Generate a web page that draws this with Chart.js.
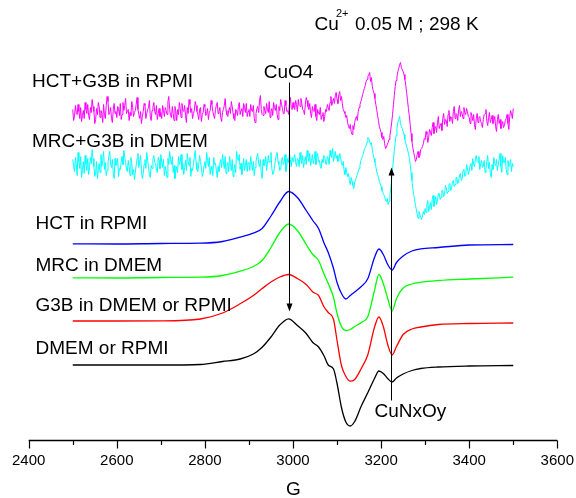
<!doctype html>
<html lang="en">
<head>
<meta charset="utf-8">
<title>EPR spectra - Cu2+ 0.05 M ; 298 K</title>
<style>
  * { margin: 0; padding: 0; }
  body { background: #fff; }
</style>
</head>
<body>
<canvas id="myChart" width="576" height="498"></canvas>
<script src="https://cdn.jsdelivr.net/npm/chart.js/dist/chart.umd.min.js"></script>
<script>
// field axis (G)
const xTicks = [2400, 2600, 2800, 3000, 3200, 3400, 3600];
const xMinorTicks = [2500, 2700, 2900, 3100, 3300, 3500];

// sample names, top to bottom
const sampleLabels = ['HCT+G3B in RPMI', 'MRC+G3B in DMEM', 'HCT in RPMI', 'MRC in DMEM', 'G3B in DMEM or RPMI', 'DMEM or RPMI'];

// noisy spectra: sampled every 2 G from 2500 G (one row = 100 G)
const noisyStart = 2500;
const noisyStep = 2;
const hctG3bRpmi = [
  331, 320, 324, 335, 328, 326, 336, 329, 322, 333, 319, 325, 330, 322, 338, 331, 327, 336, 325, 321, 333, 328, 341, 334, 329, 317, 321, 332, 326, 338, 334, 323, 330, 327, 318, 336, 325, 322, 335, 344, 339, 326, 328, 333, 322, 318, 331, 337, 327, 329,
  323, 334, 332, 325, 337, 321, 326, 338, 330, 335, 342, 327, 329, 331, 320, 328, 325, 339, 333, 324, 328, 330, 336, 343, 331, 326, 322, 329, 317, 324, 329, 337, 335, 322, 327, 331, 333, 340, 324, 320, 330, 333, 338, 329, 326, 335, 321, 327, 332, 324,
  328, 322, 335, 330, 324, 333, 330, 326, 339, 344, 331, 325, 323, 334, 327, 320, 334, 329, 320, 331, 326, 338, 332, 323, 337, 330, 329, 335, 325, 318, 333, 327, 341, 336, 328, 332, 322, 327, 330, 339, 335, 329, 326, 321, 331, 333, 319, 326, 328, 336,
  334, 325, 327, 332, 321, 328, 330, 340, 336, 329, 325, 322, 331, 335, 338, 327, 329, 333, 323, 319, 328, 331, 335, 342, 330, 326, 324, 330, 333, 327, 339, 334, 327, 322, 320, 331, 329, 325, 334, 338, 326, 330, 332, 324, 337, 333, 328, 337, 324, 329,
  331, 324, 336, 330, 329, 335, 322, 318, 327, 332, 334, 328, 340, 345, 331, 326, 325, 334, 330, 327, 337, 331, 328, 339, 323, 329, 332, 325, 338, 333, 330, 336, 326, 321, 334, 330, 341, 336, 332, 327, 327, 340, 335, 329, 330, 326, 337, 343, 333, 331,
  338, 333, 331, 340, 336, 329, 341, 335, 334, 342, 337, 331, 330, 326, 336, 343, 340, 334, 331, 337, 327, 323, 334, 330, 329, 336, 324, 320, 331, 327, 326, 333, 321, 325, 328, 319, 324, 331, 329, 336, 333, 330, 338, 344, 335, 339, 342, 337, 345, 348,
  341, 337, 346, 349, 340, 344, 337, 331, 329, 327, 323, 325, 318, 314, 312, 316, 309, 306, 315, 311, 318, 322, 324, 320, 329, 333, 336, 339, 342, 346, 349, 352, 355, 359, 361, 364, 366, 368, 359, 363, 354, 350, 347, 342, 336, 331, 325, 320, 314, 311,
  308, 303, 301, 304, 297, 292, 293, 296, 298, 301, 305, 311, 318, 326, 336, 345, 354, 360, 364, 369, 372, 376, 378, 373, 371, 369, 366, 361, 355, 348, 340, 332, 325, 316, 307, 299, 293, 288, 284, 279, 281, 286, 289, 283, 285, 291, 292, 294, 297, 302,
  301, 309, 306, 298, 303, 311, 309, 305, 313, 318, 307, 312, 314, 308, 318, 324, 312, 315, 317, 310, 322, 327, 316, 321, 320, 314, 326, 330, 319, 324, 323, 317, 329, 334, 322, 327, 326, 320, 331, 335, 324, 329, 327, 322, 333, 328, 326, 332, 329, 324,
  323, 317, 328, 325, 320, 326, 316, 311, 322, 327, 318, 323, 324, 319, 317, 313, 321, 326, 327, 331, 319, 315, 323, 328, 318, 321, 325, 317, 320, 324, 314, 309, 321, 326, 317, 321, 312, 316, 319, 313, 315, 320, 322, 326, 317, 311, 324, 330, 327, 322,
  332
];
const mrcG3bDmem = [
  281, 274, 269, 283, 276, 265, 288, 279, 272, 284, 263, 270, 279, 267, 285, 276, 270, 282, 266, 273, 283, 277, 291, 282, 274, 264, 268, 279, 262, 271, 277, 268, 286, 274, 280, 289, 271, 278, 265, 270, 278, 284, 289, 276, 273, 281, 267, 262, 282, 275,
  276, 282, 264, 272, 271, 279, 284, 276, 290, 283, 278, 271, 269, 280, 274, 265, 283, 277, 266, 271, 261, 268, 275, 282, 287, 273, 279, 285, 270, 262, 267, 276, 281, 272, 288, 280, 274, 266, 263, 275, 272, 281, 285, 278, 277, 270, 268, 283, 280, 272,
  286, 278, 273, 281, 265, 274, 270, 263, 282, 276, 289, 281, 276, 284, 268, 275, 262, 270, 274, 268, 284, 276, 279, 286, 271, 277, 266, 273, 280, 270, 287, 279, 275, 283, 264, 272, 270, 277, 283, 290, 278, 271, 269, 276, 285, 279, 273, 264, 267, 275,
  279, 272, 288, 280, 274, 283, 266, 274, 271, 265, 283, 276, 277, 270, 263, 274, 269, 277, 281, 273, 286, 279, 272, 284, 267, 275, 278, 269, 284, 277, 270, 281, 264, 271, 276, 268, 289, 282, 280, 286, 271, 277, 266, 273, 282, 270, 275, 281, 269, 278,
  277, 270, 284, 276, 270, 279, 265, 273, 279, 284, 287, 277, 274, 281, 268, 262, 281, 275, 276, 284, 270, 277, 285, 278, 279, 288, 272, 266, 267, 274, 280, 285, 288, 279, 276, 270, 271, 280, 283, 276, 278, 286, 269, 275, 282, 278, 287, 281, 274, 283,
  279, 283, 286, 278, 274, 282, 281, 274, 288, 281, 277, 285, 273, 279, 284, 276, 290, 284, 279, 287, 275, 280, 286, 277, 281, 289, 276, 283, 287, 279, 280, 274, 272, 281, 278, 285, 284, 277, 276, 284, 282, 276, 290, 285, 283, 292, 279, 284, 289, 282,
  285, 279, 280, 287, 284, 277, 275, 279, 270, 266, 273, 268, 264, 267, 260, 256, 263, 259, 255, 252, 258, 261, 263, 266, 269, 272, 275, 280, 282, 285, 287, 291, 293, 295, 298, 303, 302, 299, 296, 298, 291, 286, 282, 278, 274, 269, 266, 263, 259, 257,
  254, 250, 248, 246, 244, 240, 239, 242, 236, 239, 246, 253, 262, 271, 281, 290, 298, 305, 312, 318, 321, 324, 317, 314, 312, 309, 306, 301, 297, 294, 291, 287, 283, 276, 268, 260, 252, 246, 241, 235, 231, 226, 222, 229, 226, 223, 221, 225, 229, 226,
  232, 228, 236, 240, 229, 234, 238, 231, 241, 245, 234, 239, 244, 236, 240, 247, 247, 241, 243, 250, 250, 244, 246, 255, 253, 247, 249, 256, 257, 250, 252, 259, 260, 254, 256, 263, 263, 257, 258, 266, 267, 260, 262, 270, 271, 264, 265, 276, 273, 266,
  269, 275, 277, 270, 282, 276, 274, 281, 285, 279, 278, 284, 271, 277, 280, 273, 274, 280, 268, 272, 279, 285, 272, 278, 267, 263, 276, 271, 283, 277, 275, 281, 270, 276, 281, 287, 274, 268, 285, 278, 278, 283, 271, 266, 280, 274, 276, 281, 269, 277,
  274
];

// smooth spectra (offset intensity, a.u.)
const smoothField = [2500, 2600, 2700, 2790, 2840, 2880, 2910, 2930, 2950, 2970, 2990, 3010, 3030, 3045, 3058, 3070, 3080, 3092, 3100, 3110,
  3120, 3130, 3140, 3155, 3170, 3185, 3195, 3205, 3215, 3225, 3235, 3250, 3270, 3290, 3330, 3400, 3500];
const hctRpmi = [196.7, 196.5, 197, 197.3, 199, 203.3, 207.3, 212, 224.5, 238.5, 249, 243, 230, 220, 212, 198, 188, 172, 158, 147,
  141.5, 145, 148.5, 154, 162, 183, 191.5, 186, 176, 170.5, 178, 184.5, 189.5, 191.7, 193, 195.5, 196];
const mrcDmem = [162.7, 162.5, 163, 163.3, 165, 169.3, 174, 180, 193, 208, 216.5, 210, 196, 186, 180, 167, 157, 143, 127, 114,
  110, 111, 114, 118, 124, 150, 166, 157, 142, 129.5, 142, 152.5, 156.5, 158.3, 160, 161.5, 163.3];
const g3bMedium = [119.5, 119.5, 119.6, 121.5, 127.5, 136.7, 145, 152, 158.5, 163.5, 166, 162, 156, 148.5, 145, 134, 128, 121, 100, 75,
  64, 59.3, 61, 72, 86, 113.3, 123.5, 114, 96, 85.5, 94, 106, 111.5, 113.5, 116, 117, 117.5];
const mediumOnly = [75.5, 75.5, 75.5, 76, 79, 81.5, 86.5, 93.3, 103.5, 115.5, 121.7, 115, 107, 98, 93.5, 85, 75.5, 71.5, 57, 33,
  18.5, 14.5, 19, 34.5, 48, 62, 69.5, 67, 62, 58.5, 62.5, 66.5, 70, 72, 73.5, 74.5, 75];

// arrow markers: [field, from, to]
const cuO4Arrow = [2990, 358, 129];
const cuNxOyArrow = [3223, 40, 273];

const noisyPoints = vals => vals.map((v, i) => ({ x: noisyStart + i * noisyStep, y: v }));
const smoothPoints = vals => vals.map((v, i) => ({ x: smoothField[i], y: v }));

const FONT = '"Liberation Sans", Arial, sans-serif';

// axis, arrows and all the text are drawn here
const decorations = {
  id: 'decorations',
  afterDatasetsDraw(chart) {
    const { ctx, scales: { x, y } } = chart;
    const y0 = y.getPixelForValue(0);
    ctx.save();
    ctx.strokeStyle = '#000';
    ctx.fillStyle = '#000';

    // bottom axis, ticks pointing down
    ctx.lineWidth = 1.3;
    ctx.beginPath();
    ctx.moveTo(x.getPixelForValue(xTicks[0]), y0);
    ctx.lineTo(x.getPixelForValue(xTicks[xTicks.length - 1]), y0);
    ctx.stroke();
    ctx.lineWidth = 1.2;
    xTicks.forEach(t => {
      const px = Math.round(x.getPixelForValue(t)) + 0.5;
      ctx.beginPath(); ctx.moveTo(px, y0); ctx.lineTo(px, y0 + 8); ctx.stroke();
    });
    xMinorTicks.forEach(t => {
      const px = Math.round(x.getPixelForValue(t)) + 0.5;
      ctx.beginPath(); ctx.moveTo(px, y0); ctx.lineTo(px, y0 + 4.5); ctx.stroke();
    });
    ctx.font = '15px ' + FONT;
    ctx.textAlign = 'center';
    ctx.textBaseline = 'middle';
    xTicks.forEach(t => ctx.fillText(String(t), x.getPixelForValue(t), y0 + 20.5));
    ctx.font = '19px ' + FONT;
    ctx.fillText('G', x.getPixelForValue(3000) + 0.5, 490);

    // arrows
    const arrow = ([g, from, to]) => {
      const px = Math.round(x.getPixelForValue(g)) + 0.5;
      const a = y.getPixelForValue(from), b = y.getPixelForValue(to);
      const dir = b > a ? 1 : -1;
      ctx.lineWidth = 1;
      ctx.beginPath(); ctx.moveTo(px, a); ctx.lineTo(px, b - dir * 6); ctx.stroke();
      ctx.beginPath();
      ctx.moveTo(px, b);
      ctx.lineTo(px - 3, b - dir * 8);
      ctx.lineTo(px + 3, b - dir * 8);
      ctx.closePath();
      ctx.fill();
    };
    arrow(cuO4Arrow);
    arrow(cuNxOyArrow);

    // sample names and peak labels
    ctx.font = '19px ' + FONT;
    ctx.textAlign = 'left';
    const labelY = [81.7, 141.7, 224, 266, 305.8, 348.3];
    const labelX = [32, 32, 35.5, 35.5, 35.5, 35.5];
    sampleLabels.forEach((s, i) => ctx.fillText(s, labelX[i], labelY[i]));

    ctx.textAlign = 'center';
    ctx.fillText('CuO4', x.getPixelForValue(cuO4Arrow[0]), 72.5);
    ctx.textAlign = 'left';
    ctx.fillText('CuNxOy', 374.5, 411.5);

    ctx.fillText('Cu', 314.5, 25);
    ctx.fillText('0.05 M ; 298 K', 355, 25);
    ctx.font = '11px ' + FONT;
    ctx.fillText('2+', 336, 14);
    ctx.restore();
  }
};

const line = (data, color, smooth) => ({
  data,
  borderColor: color,
  borderWidth: smooth ? 1.3 : 1,
  pointRadius: 0,
  fill: false,
  cubicInterpolationMode: smooth ? 'monotone' : 'default',
  tension: 0
});

new Chart(document.getElementById('myChart'), {
  type: 'line',
  data: {
    datasets: [
      line(noisyPoints(hctG3bRpmi), '#ff00ff', false),
      line(noisyPoints(mrcG3bDmem), '#00ffff', false),
      line(smoothPoints(hctRpmi), '#0000ff', true),
      line(smoothPoints(mrcDmem), '#00ff00', true),
      line(smoothPoints(g3bMedium), '#ff0000', true),
      line(smoothPoints(mediumOnly), '#000000', true)
    ]
  },
  options: {
    responsive: false,
    animation: false,
    layout: { padding: { left: 28.7, right: 18.7, top: 0, bottom: 57.5 } },
    plugins: { legend: { display: false }, tooltip: { enabled: false } },
    scales: {
      x: { type: 'linear', display: false, min: 2400, max: 3600 },
      y: { type: 'linear', display: false, min: 0, max: 440.5 }
    }
  },
  plugins: [decorations]
});
</script>
</body>
</html>
